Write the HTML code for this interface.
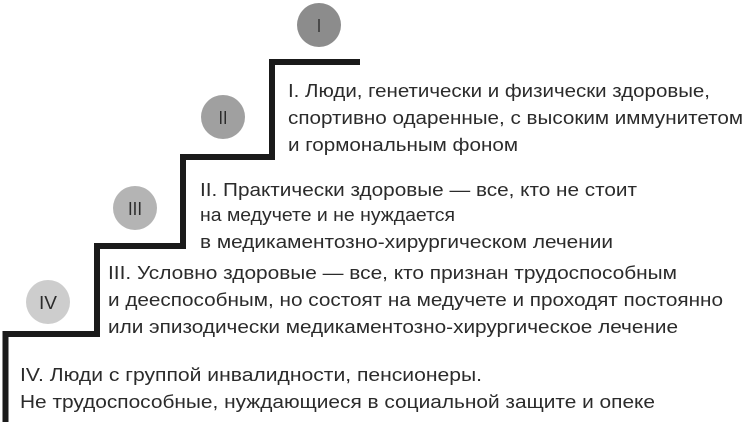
<!DOCTYPE html>
<html><head><meta charset="utf-8"><style>
html,body{margin:0;padding:0;background:#fff;}
svg{display:block}
text{font-family:"Liberation Sans","DejaVu Sans",sans-serif;fill:#2b2b2b;font-size:18px;}
</style></head><body>
<svg width="745" height="422" viewBox="0 0 745 422">
<path d="M5.5 422 V334 H97 V246 H183 V157 H272 V62 H360" fill="none" stroke="#1a1a1a" stroke-width="6"/>
<circle cx="319" cy="25" r="22" fill="#8c8c8c"/>
<circle cx="223" cy="117" r="22" fill="#a0a0a0"/>
<circle cx="135" cy="208" r="22" fill="#b4b4b4"/>
<circle cx="48" cy="302" r="22" fill="#cdcdcd"/>
<g text-anchor="middle" style="font-size:18px">
<text x="319" y="32" textLength="4" lengthAdjust="spacingAndGlyphs">I</text>
<text x="223" y="124" textLength="9" lengthAdjust="spacingAndGlyphs">II</text>
<text x="135" y="215" textLength="14" lengthAdjust="spacingAndGlyphs">III</text>
<text x="48" y="309" textLength="18" lengthAdjust="spacingAndGlyphs">IV</text>
</g>
<g lengthAdjust="spacingAndGlyphs">
<text x="288" y="97" textLength="422" lengthAdjust="spacingAndGlyphs">I. Люди, генетически и физически здоровые,</text>
<text x="288" y="124" textLength="455" lengthAdjust="spacingAndGlyphs">спортивно одаренные, с высоким иммунитетом</text>
<text x="288" y="151" textLength="230" lengthAdjust="spacingAndGlyphs">и гормональным фоном</text>
<text x="200" y="196" textLength="437" lengthAdjust="spacingAndGlyphs">II. Практически здоровые — все, кто не стоит</text>
<text x="200" y="221" textLength="255" lengthAdjust="spacingAndGlyphs">на медучете и не нуждается</text>
<text x="200" y="248" textLength="413" lengthAdjust="spacingAndGlyphs">в медикаментозно-хирургическом лечении</text>
<text x="108" y="279" textLength="569" lengthAdjust="spacingAndGlyphs">III. Условно здоровые — все, кто признан трудоспособным</text>
<text x="108" y="306" textLength="615" lengthAdjust="spacingAndGlyphs">и дееспособным, но состоят на медучете и проходят постоянно</text>
<text x="108" y="333" textLength="570" lengthAdjust="spacingAndGlyphs">или эпизодически медикаментозно-хирургическое лечение</text>
<text x="20" y="381" textLength="462" lengthAdjust="spacingAndGlyphs">IV. Люди с группой инвалидности, пенсионеры.</text>
<text x="20" y="408" textLength="635" lengthAdjust="spacingAndGlyphs">Не трудоспособные, нуждающиеся в социальной защите и опеке</text>
</g>
</svg>
</body></html>
